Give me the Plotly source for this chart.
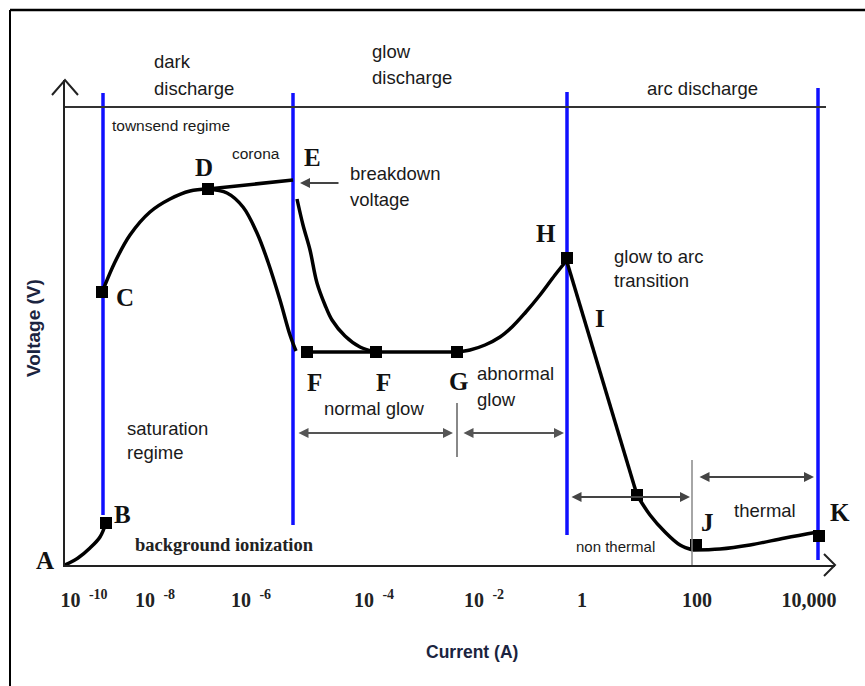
import plotly.graph_objects as go

# ---------------- data (schematic units: x = position along current axis, y = voltage) ----------------
tick_pos = [19, 90, 186, 309, 419, 517, 632, 744]
tick_text = ["10 <sup> -10</sup>", "10 <sup> -8</sup>", "10 <sup> -6</sup>", "10 <sup> -4</sup>",
             "10 <sup> -2</sup>", "1", "100", "10,000"]

# curve segments
ab_x = [0, 13, 25, 35, 41]
ab_y = [0, 7, 17, 28, 42]
cd_x = [38, 50, 65, 85, 105, 125, 143]
cd_y = [275, 303, 330, 353, 366, 374, 376]
de_x = [143, 228]
de_y = [376, 385]
df_x = [143, 162, 178, 192, 203, 215, 225, 231]
df_y = [376, 372, 358, 332, 303, 265, 230, 214]
ef_x = [232, 238, 245, 252, 260, 267, 280, 295, 311]
ef_y = [366, 340, 315, 282, 260, 245, 229, 218, 213]
fg_x = [242, 392]
fg_y = [213, 213]
gh_x = [392, 405, 420, 435, 447, 460, 475, 490, 502]
gh_y = [213, 215, 220, 228, 238, 252, 270, 290, 305]
hi_x = [502, 572]
hi_y = [303, 70]
ij_x = [572, 585, 600, 615, 628]
ij_y = [70, 50, 33, 20, 15]
jk_x = [628, 655, 685, 720, 753]
jk_y = [15, 16, 20, 27, 33]

# marked points
pts_x = [41, 37, 143, 242, 311, 392, 502, 572, 631, 754]
pts_y = [42, 273, 376, 213, 213, 213, 307, 70, 20, 29]

# letter labels
letters = ["A", "B", "C", "D", "E", "F", "F", "G", "H", "I", "J", "K"]
let_x = [-20, 57, 60, 139, 247, 249, 318, 394, 481, 535, 642, 775]
let_y = [5, 51, 268, 398, 408, 183, 183, 184, 332, 247, 43, 53]

# region boundaries (blue)
bound_x = [38, 228, 502, 753]
bound_y0 = [50, 40, 30, 5]
bound_y1 = [472, 472, 473, 477]

XMAX, YMAX = 770, 485
L, T = 65, 80


def px(x):
    return x / XMAX


def py(y):
    return y / YMAX


fig = go.Figure()

curve_style = dict(color="black", width=3.5)
for xs, ys, shp in [(ab_x, ab_y, "spline"), (cd_x, cd_y, "spline"), (de_x, de_y, "linear"),
                    (df_x, df_y, "spline"), (ef_x, ef_y, "spline"), (fg_x, fg_y, "linear"),
                    (gh_x, gh_y, "spline"), (hi_x, hi_y, "linear"), (ij_x, ij_y, "spline"),
                    (jk_x, jk_y, "spline")]:
    fig.add_trace(go.Scatter(x=xs, y=ys, mode="lines", line=dict(shape=shp, **curve_style),
                             hoverinfo="skip", showlegend=False, cliponaxis=False))

fig.add_trace(go.Scatter(x=pts_x, y=pts_y, mode="markers",
                         marker=dict(symbol="square", size=12, color="black"),
                         showlegend=False, cliponaxis=False))

shapes = []
for bx, b0, b1 in zip(bound_x, bound_y0, bound_y1):
    shapes.append(dict(type="line", x0=bx, x1=bx, y0=b0, y1=b1, xref="x", yref="y",
                       line=dict(color="#1010ff", width=3.5), layer="below"))
# top horizontal line
shapes.append(dict(type="line", x0=0, x1=761, y0=458, y1=458, xref="x", yref="y",
                   line=dict(color="#333", width=2), layer="below"))
# normal/abnormal boundary tick and thermal boundary
shapes.append(dict(type="line", x0=392, x1=392, y0=108, y1=162, xref="x", yref="y",
                   line=dict(color="#888", width=2)))
shapes.append(dict(type="line", x0=627, x1=627, y0=0, y1=105, xref="x", yref="y",
                   line=dict(color="#888", width=1.5)))
# axis chevrons (open arrowheads)
shapes.append(dict(type="path", xref="paper", yref="paper",
                   path=f"M {px(-13)} {py(YMAX - 15)} L 0 1 L {px(13)} {py(YMAX - 15)}",
                   line=dict(color="#222", width=2)))
shapes.append(dict(type="path", xref="paper", yref="paper",
                   path=f"M {px(XMAX - 11)} {py(11)} L 1 0 L {px(XMAX - 11)} {py(-11)}",
                   line=dict(color="#222", width=2)))
# outer frame (left and top edges)
shapes.append(dict(type="line", xref="paper", yref="paper",
                   x0=px(10 - L), x1=px(10 - L), y0=py(565 - 10), y1=py(565 - 690),
                   line=dict(color="black", width=2)))
shapes.append(dict(type="line", xref="paper", yref="paper",
                   x0=px(10 - L), x1=px(870 - L), y0=py(565 - 10), y1=py(565 - 10),
                   line=dict(color="black", width=2.5)))

ann = []
sans = "Liberation Sans, Arial, sans-serif"
serif = "Liberation Serif, Times New Roman, serif"
BIG, SMALL = 18.5, 15.5
text_labels = [
    ("dark", 87, 503, BIG, "left"), ("discharge", 87, 477, BIG, "left"),
    ("glow", 305, 513, BIG, "left"), ("discharge", 305, 488, BIG, "left"),
    ("arc discharge", 637, 477, BIG, "center"),
    ("townsend regime", 45, 440, SMALL, "left"), ("corona", 165, 412, SMALL, "left"),
    ("breakdown", 283, 392, BIG, "left"), ("voltage", 283, 366, BIG, "left"),
    ("glow to arc", 547, 309, BIG, "left"), ("transition", 547, 285, BIG, "left"),
    ("saturation", 60, 137, BIG, "left"), ("regime", 60, 112, BIG, "left"),
    ("normal glow", 257, 157, BIG, "left"),
    ("abnormal", 410, 192, BIG, "left"), ("glow", 410, 166, BIG, "left"),
    ("non thermal", 509, 19, 15, "left"), ("thermal", 667, 55, BIG, "left"),
]
for t, x, y, s, anc in text_labels:
    ann.append(dict(text=t, x=px(x), y=py(y), xref="paper", yref="paper", showarrow=False,
                    xanchor=anc, yanchor="middle",
                    font=dict(family=sans, size=s, color="#1a1a1a")))

for t, x, y in zip(letters, let_x, let_y):
    ann.append(dict(text=t, x=px(x), y=py(y), xref="paper", yref="paper", showarrow=False,
                    xanchor="center", yanchor="middle",
                    font=dict(family=serif, size=25, color="#111", weight="bold")))

ann.append(dict(text="background ionization", x=px(68), y=py(20), xref="paper", yref="paper",
                showarrow=False, xanchor="left", yanchor="middle",
                font=dict(family=serif, size=18.5, color="#222", weight="bold")))

# axis titles
ann.append(dict(text="Voltage (V)", x=px(33 - L), y=py(565 - 328), xref="paper", yref="paper",
                showarrow=False, textangle=-90, xanchor="center", yanchor="middle",
                font=dict(family=sans, size=19, color="#1b2440", weight="bold")))
ann.append(dict(text="Current (A)", x=px(472 - L), y=py(565 - 652), xref="paper", yref="paper",
                showarrow=False, xanchor="center", yanchor="middle",
                font=dict(family=sans, size=17.5, color="#1b2440", weight="bold")))

# arrows
arrow_c = "#555"


def arr(x0, y0, x1, y1, both=True, color=arrow_c):
    ann.append(dict(x=x1, y=y1, ax=x0, ay=y0, xref="x", yref="y", axref="x", ayref="y",
                    text="", showarrow=True, arrowhead=2, startarrowhead=2, arrowsize=1,
                    startarrowsize=1, arrowwidth=2, arrowcolor=color,
                    arrowside="end+start" if both else "end"))


arr(275, 382, 235, 382, both=False, color="#444")
arr(232, 132, 388, 132)
arr(397, 132, 499, 132)
arr(505, 68, 625, 68, color="#444")
arr(633, 88, 749, 88, color="#444")

fig.update_layout(
    width=865, height=686,
    margin=dict(l=L, r=865 - L - XMAX, t=T, b=686 - T - YMAX),
    paper_bgcolor="white", plot_bgcolor="white",
    showlegend=False,
    shapes=shapes, annotations=ann,
    xaxis=dict(range=[0, XMAX], showgrid=False, zeroline=False, showline=True,
               linecolor="#222", linewidth=2, tickvals=tick_pos, ticktext=tick_text,
               ticks="outside", ticklen=16, tickcolor="rgba(0,0,0,0)",
               tickfont=dict(family=serif, size=20, color="#222", weight="bold"),
               fixedrange=True),
    yaxis=dict(range=[0, YMAX], showgrid=False, zeroline=False, showline=True,
               linecolor="#222", linewidth=2, showticklabels=False, ticks="",
               fixedrange=True),
)

fig.write_html("out.html")
